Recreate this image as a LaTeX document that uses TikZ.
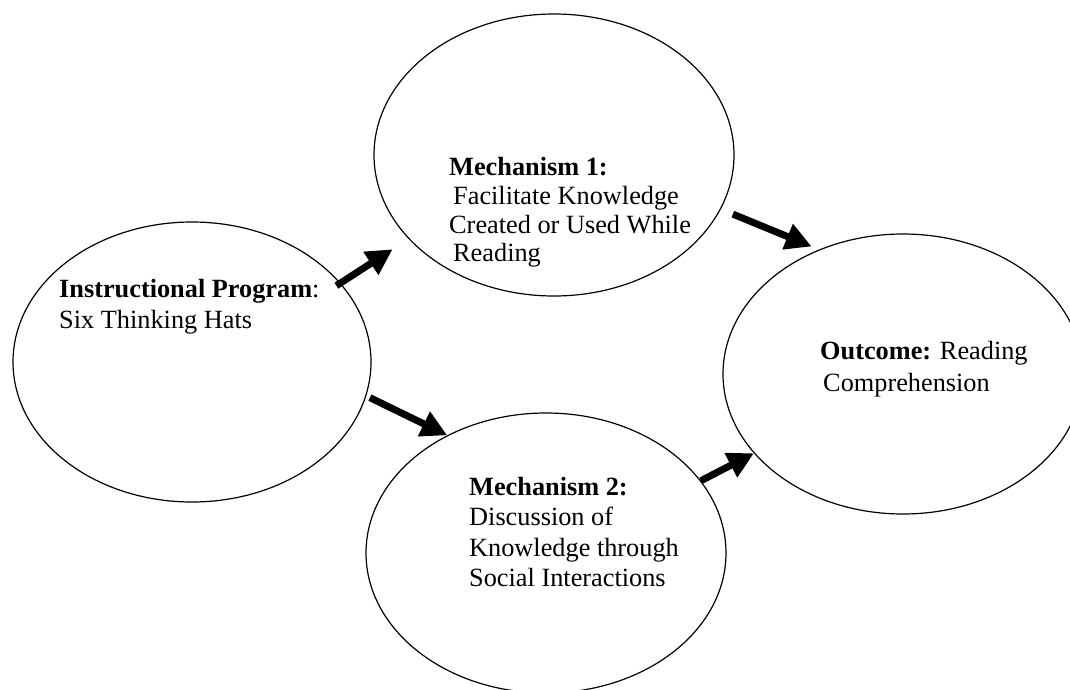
\documentclass[tikz,border=0pt]{standalone}
\usepackage{fontspec}
\setmainfont{Liberation Serif}
\usetikzlibrary{arrows.meta,shapes.geometric}
\tikzset{
  bubble/.style={draw=black, line width=1.2pt, ellipse, inner sep=0pt, minimum width=360pt, minimum height=280pt},
  txt/.style={anchor=base west, inner sep=0pt, font=\fontsize{26.3}{30}\selectfont},
  arr/.style={line width=7pt, -{Triangle[length=26pt,width=26pt]}}
}
\begin{document}
\begin{tikzpicture}[x=1pt,y=-1pt]
\useasboundingbox (0,0) rectangle (1070,690);
\node[bubble, minimum width=358pt] (L) at (192,362) {};
\node[bubble, minimum height=282pt] (T) at (554,155) {};
\node[bubble] (B) at (546,553) {};
\node[bubble] (R) at (903,374) {};
% texts
\node[txt] (L1) at (59,297) {\textbf{Instructional Program}:};
\node[txt] (L2) at (59,328) {Six Thinking Hats};
\node[txt] (T1) at (449,175) {\textbf{Mechanism 1:}};
\node[txt] (T2) at (453,204) {Facilitate Knowledge};
\node[txt] (T3) at (449,233) {Created or Used While};
\node[txt] (T4) at (453,261) {Reading};
\node[txt] (B1) at (469,495) {\textbf{Mechanism 2:}};
\node[txt] (B2) at (469,525) {Discussion of};
\node[txt] (B3) at (469,556) {Knowledge through};
\node[txt] (B4) at (469,586) {Social Interactions};
\node[txt] (R1) at (820,359) {\textbf{Outcome:} Reading};
\node[txt] (R2) at (823,391) {Comprehension};
% arrows
\draw[arr, shorten <=-5pt, shorten >=19pt] (L.28) -- (T.210);
\draw[arr, shorten <=13pt, shorten >=8pt] (T.-18) -- (R.124.7);
\draw[arr, shorten <=4pt] (L.-11.8) -- (B.130.5);
\draw[arr] (B.25.6) -- (R.208.1);
\end{tikzpicture}
\end{document}
